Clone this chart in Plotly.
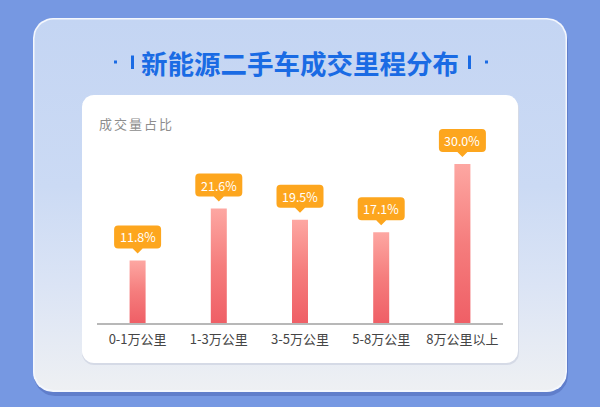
import math
import plotly.graph_objects as go

# ---- data ----
categories = ["0-1万公里", "1-3万公里", "3-5万公里", "5-8万公里", "8万公里以上"]
shares = [11.8, 21.6, 19.5, 17.1, 30.0]
value_labels = ["11.8%", "21.6%", "19.5%", "17.1%", "30.0%"]
title_text = "新能源二手车成交里程分布"
y_title = "成交量占比"

W, H = 600, 407
FONT = "Noto Sans CJK SC"


def rrect(x0, y0, x1, y1, r, n=10):
    """rounded rectangle polygon in pixel space (y downward)"""
    xs, ys = [], []
    corners = [
        (x1 - r, y0 + r, -90, 0),
        (x1 - r, y1 - r, 0, 90),
        (x0 + r, y1 - r, 90, 180),
        (x0 + r, y0 + r, 180, 270),
    ]
    for cx, cy, a0, a1 in corners:
        for k in range(n + 1):
            a = math.radians(a0 + (a1 - a0) * k / n)
            xs.append(cx + r * math.cos(a))
            ys.append(cy + r * math.sin(a))
    xs.append(xs[0])
    ys.append(ys[0])
    return xs, ys


fig = go.Figure()

# ---- background decoration (subplot xy, pixel coordinates) ----
def bg_poly(x0, y0, x1, y1, r, color=None, grad=None):
    xs, ys = rrect(x0, y0, x1, y1, r)
    kw = dict(x=xs, y=ys, mode="lines", line=dict(width=0), fill="toself",
              hoverinfo="skip", showlegend=False, xaxis="x", yaxis="y")
    if grad is not None:
        kw["fillgradient"] = grad
        kw["fillcolor"] = None
    else:
        kw["fillcolor"] = color
    fig.add_trace(go.Scatter(**kw))


# outer card shadow + rim + gradient body
bg_poly(34, 22, 568, 396, 21, color="rgba(70,95,175,0.45)")
bg_poly(33, 18, 567, 392, 20, color="#f4f7fd")
bg_poly(34.5, 19.5, 565.5, 390, 19,
        grad=dict(type="vertical", start=19.5, stop=390,
                  colorscale=[[0, "#c4d5f3"], [0.45, "#cbdaf4"],
                              [0.72, "#dbe4f5"], [1, "#eef0f3"]]))
# inner white card shadow + card
bg_poly(82, 97, 519, 365, 12, color="#d5dae6")
bg_poly(82, 95, 518, 363, 12, color="#ffffff")

# ---- bars (subplot x2y2) ----
hw = 0.0985
for i, v in enumerate(shares):
    fig.add_trace(go.Scatter(
        x=[i - hw, i + hw, i + hw, i - hw, i - hw],
        y=[0, 0, v, v, 0],
        mode="lines", line=dict(width=0), fill="toself",
        fillgradient=dict(type="vertical",
                          colorscale=[[0, "#ef5f66"], [0.5, "#f57d7d"], [1, "#fda7a2"]]),
        hoverinfo="skip", showlegend=False, xaxis="x2", yaxis="y2",
    ))

shapes = []
annotations = []

# label callouts anchored at bar tops
bw, b0, b1, r = 23.5, 12, 35, 4
callout = (
    f"M {-bw + r},{b1} L {bw - r},{b1} Q {bw},{b1} {bw},{b1 - r} "
    f"L {bw},{b0 + r} Q {bw},{b0} {bw - r},{b0} L 5,{b0} L 0,7 L -5,{b0} "
    f"L {-bw + r},{b0} Q {-bw},{b0} {-bw},{b0 + r} L {-bw},{b1 - r} "
    f"Q {-bw},{b1} {-bw + r},{b1} Z"
)
for i, (v, lab) in enumerate(zip(shares, value_labels)):
    shapes.append(dict(type="path", xref="x2", yref="y2",
                       xsizemode="pixel", ysizemode="pixel",
                       xanchor=i, yanchor=v, path=callout,
                       fillcolor="#fda61e", line=dict(width=0), layer="above"))
    annotations.append(dict(x=i, y=v, xref="x2", yref="y2", text=lab,
                            showarrow=False, yanchor="middle", yshift=(b0 + b1) / 2,
                            font=dict(family=FONT, size=12.5, color="#ffffff")))

# title decorations
blue = "#1a6be4"
for x0, y0, x1, y1 in [(114, 60.5, 117, 63.5), (131, 55.5, 134, 69),
                       (468, 55.5, 471, 69), (485, 60.5, 488, 63.5)]:
    shapes.append(dict(type="rect", xref="x", yref="y", x0=x0, y0=y0, x1=x1, y1=y1,
                       fillcolor=blue, line=dict(width=0), layer="above"))

annotations.append(dict(x=300 / W, y=1 - 62 / H, xref="paper", yref="paper",
                        text=f"<b>{title_text}</b>", showarrow=False,
                        xanchor="center", yanchor="middle",
                        font=dict(family=FONT, size=26.5, color=blue)))
annotations.append(dict(x=97 / W, y=1 - 123.5 / H, xref="paper", yref="paper",
                        text=f'<span style="letter-spacing:2px">{y_title}</span>',
                        showarrow=False, xanchor="left", yanchor="middle",
                        font=dict(family=FONT, size=13, color="#8d8d8d")))

fig.update_layout(
    width=W, height=H,
    margin=dict(l=0, r=0, t=0, b=0),
    paper_bgcolor="#7698e2", plot_bgcolor="rgba(0,0,0,0)",
    showlegend=False,
    xaxis=dict(domain=[0, 1], range=[0, W], visible=False, fixedrange=True),
    yaxis=dict(domain=[0, 1], range=[H, 0], visible=False, fixedrange=True),
    xaxis2=dict(domain=[97 / W, 503 / W], anchor="y2", range=[-0.5, 4.5],
                tickmode="array", tickvals=list(range(len(categories))),
                ticktext=categories, showgrid=False, zeroline=False,
                showline=True, linecolor="#b8b8b8", linewidth=1.5, ticks="",
                ticklabelstandoff=4,
                tickfont=dict(family=FONT, size=13, color="#454545"), fixedrange=True),
    yaxis2=dict(domain=[84 / H, 284 / H], anchor="x2", range=[0, 200 / 5.3],
                visible=False, showgrid=False, zeroline=False, fixedrange=True),
    shapes=shapes, annotations=annotations,
)

fig.write_html("out.html",
               config={"displayModeBar": False, "staticPlot": True},
               post_script="document.body.style.margin='0';document.body.style.background='#7698e2';")
